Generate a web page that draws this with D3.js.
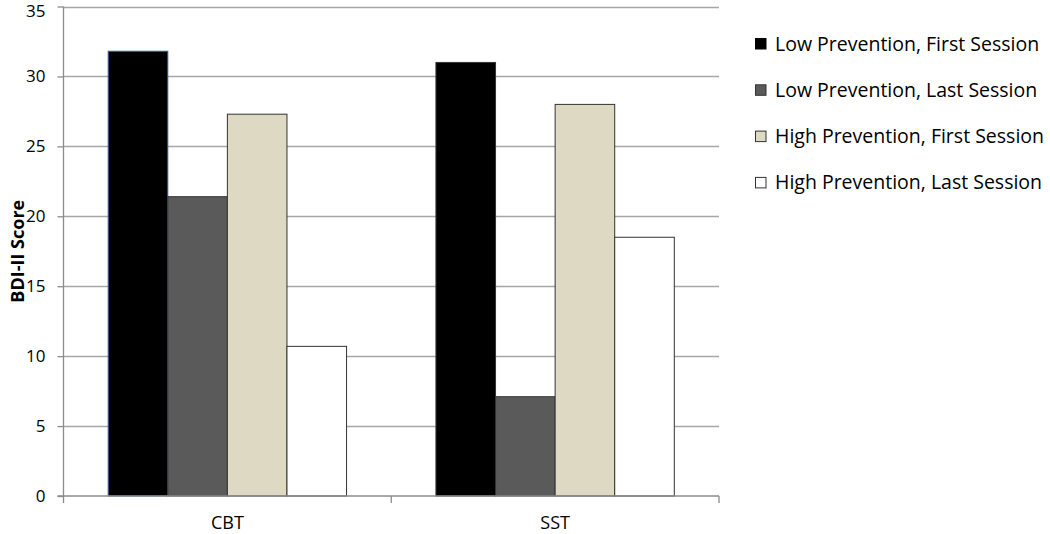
<!DOCTYPE html>
<html>
<head>
<meta charset="utf-8">
<script src="https://cdnjs.cloudflare.com/ajax/libs/d3/7.8.5/d3.min.js"></script>
<style>
  body { margin: 0; background: #fff; overflow: hidden; }
  svg { display: block; }
  text { font-family: "Open Sans", "Liberation Sans", sans-serif; fill: #000; }
</style>
</head>
<body>
<div id="chart"></div>
<script>
var groups = ["CBT", "SST"];
var series = ["Low Prevention, First Session", "Low Prevention, Last Session",
              "High Prevention, First Session", "High Prevention, Last Session"];
var cbtValues = [31.8, 21.4, 27.3, 10.7];
var sstValues = [31.0, 7.1, 28.0, 18.5];
var yTicks = [0, 5, 10, 15, 20, 25, 30, 35];
var colors = ["#000000", "#5a5a5a", "#ddd9c3", "#ffffff"];

var data = [];
groups.forEach(function(g, gi){
  var vals = gi == 0 ? cbtValues : sstValues;
  series.forEach(function(s, si){
    data.push({group: g, series: s, idx: si, value: vals[si]});
  });
});

var width = 1050, height = 534;
var margin = {top: 6.5, left: 63.5, right: 331, bottom: 38};

var svg = d3.select("#chart").append("svg")
  .attr("width", width)
  .attr("height", height);

var x0 = d3.scaleBand()
  .domain(groups)
  .range([margin.left, width - margin.right]);

// excel style gap width 150%
var barW = x0.bandwidth() / 5.5;
var x1 = d3.scaleBand()
  .domain(d3.range(series.length))
  .range([0, barW * 4]);

var y = d3.scaleLinear()
  .domain([0, 35])
  .range([height - margin.bottom, margin.top]);

// gridlines
svg.append("g").selectAll("line")
  .data(yTicks.filter(function(d){ return d > 0; }))
  .enter().append("line")
  .attr("x1", margin.left)
  .attr("x2", width - margin.right)
  .attr("y1", function(d){ return Math.round(y(d)) + 0.5; })
  .attr("y2", function(d){ return Math.round(y(d)) + 0.5; })
  .attr("stroke", "#a6a6a6")
  .attr("stroke-width", 1.3);

// bars
svg.append("g").selectAll("rect")
  .data(data)
  .enter().append("rect")
  .attr("x", function(d){ return x0(d.group) + barW * 0.75 + x1(d.idx); })
  .attr("y", function(d){ return y(d.value); })
  .attr("width", barW)
  .attr("height", function(d){ return y(0) - y(d.value); })
  .attr("fill", function(d){ return colors[d.idx]; })
  .attr("stroke", function(d){ return (d.group == "CBT" && d.idx == 0) ? "#3a5f95" : "#333"; })
  .attr("stroke-width", 1);

// y axis
var yAxis = svg.append("g")
  .attr("transform", "translate(" + margin.left + ",0)")
  .call(d3.axisLeft(y).tickValues(yTicks).tickSize(6).tickPadding(12));
yAxis.select(".domain").attr("stroke", "#8c8c8c").attr("stroke-width", 1.3).attr("d", "M0," + margin.top + "V" + y(0));
yAxis.selectAll(".tick line").attr("stroke", "#8c8c8c").attr("stroke-width", 1.3);
yAxis.selectAll(".tick text").attr("font-size", "17px").attr("font-family", "Open Sans, sans-serif").attr("fill", "#000")
  .attr("dy", function(d){ return d == 35 ? "0.6em" : "0.32em"; });

// x axis
var xAxis = svg.append("g")
  .attr("transform", "translate(0," + y(0) + ")");
xAxis.append("line")
  .attr("x1", margin.left - 6).attr("x2", width - margin.right)
  .attr("stroke", "#8c8c8c").attr("stroke-width", 1.3);
xAxis.selectAll(".xtick")
  .data([margin.left, x0("SST"), width - margin.right])
  .enter().append("line")
  .attr("x1", function(d){ return d; }).attr("x2", function(d){ return d; })
  .attr("y1", 0).attr("y2", 7)
  .attr("stroke", "#8c8c8c").attr("stroke-width", 1.3);
xAxis.selectAll(".xlabel")
  .data(groups)
  .enter().append("text")
  .attr("x", function(d){ return x0(d) + x0.bandwidth() / 2; })
  .attr("y", 33)
  .attr("text-anchor", "middle")
  .attr("font-size", "18px")
  .text(function(d){ return d; });

// y title
svg.append("text")
  .attr("transform", "translate(24," + (y(17.5)) + ") rotate(-90)")
  .attr("text-anchor", "middle")
  .attr("font-size", "18px")
  .attr("font-weight", "bold")
  .text("BDI-II Score");

// legend
var legend = svg.append("g").selectAll("g")
  .data(series)
  .enter().append("g")
  .attr("transform", function(d, i){ return "translate(755," + (43.5 + i * 46.3) + ")"; });
legend.append("rect")
  .attr("x", 0.5).attr("y", -5)
  .attr("width", 10.5).attr("height", 10.5)
  .attr("fill", function(d, i){ return colors[i]; })
  .attr("stroke", function(d, i){ return i == 0 ? "#000" : "#333"; })
  .attr("stroke-width", 1);
legend.append("text")
  .attr("x", 20)
  .attr("y", 7)
  .attr("font-size", "19.5px")
  .text(function(d){ return d; });
</script>
</body>
</html>
